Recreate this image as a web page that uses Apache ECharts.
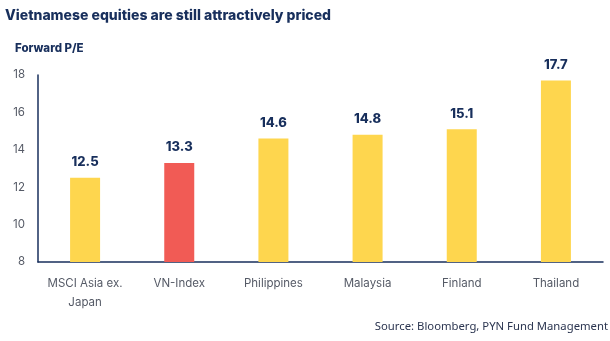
<!DOCTYPE html>
<html><head><meta charset="utf-8">
<script src="https://cdn.jsdelivr.net/npm/echarts@6/dist/echarts.min.js"></script>
<style>html,body{margin:0;padding:0;background:#fff}#c{width:610px;height:341px}</style>
</head><body><div id="c"></div>
<script>
const categories = ['MSCI Asia ex.\nJapan', 'VN-Index', 'Philippines', 'Malaysia', 'Finland', 'Thailand'];
const values = [12.5, 13.3, 14.6, 14.8, 15.1, 17.7];
const highlight = 'VN-Index';
const yTicks = [8, 10, 12, 14, 16, 18];

const navy = '#182f5c';
const chart = echarts.init(document.getElementById('c'));
chart.setOption({
  animation: false,
  textStyle: { fontFamily: 'Inter' },
  title: [
    { text: 'Vietnamese equities are still attractively priced', left: 5, top: 9, padding: 0,
      textStyle: { fontSize: 14, fontWeight: 800, color: navy, fontFamily: 'Inter' } },
    { text: 'Forward P/E', left: 15, top: 43, padding: 0,
      textStyle: { fontSize: 11.5, fontWeight: 800, color: navy, fontFamily: 'Inter' } },
    { text: 'Source: Bloomberg, PYN Fund Management', right: 2, top: 321, padding: 0,
      textStyle: { fontSize: 11.3, fontWeight: 'normal', color: '#2b3550', fontFamily: 'Noto Sans' } }
  ],
  grid: { left: 38, right: 7, top: 75, bottom: 79 },
  xAxis: {
    type: 'category', data: categories,
    axisLine: { lineStyle: { color: navy, width: 1.5 } },
    axisTick: { show: false },
    axisLabel: { color: '#555a66', fontSize: 11.5, lineHeight: 19, margin: 12, interval: 0 }
  },
  yAxis: {
    type: 'value', min: yTicks[0], max: yTicks[yTicks.length - 1], interval: 2,
    axisLine: { show: true, lineStyle: { color: navy, width: 1.5 } },
    axisTick: { show: false },
    splitLine: { show: false },
    axisLabel: { color: '#555a66', fontSize: 11.5, margin: 13 }
  },
  series: [{
    type: 'bar',
    barWidth: 30,
    data: values.map((v, i) => ({
      value: v,
      itemStyle: { color: categories[i] === highlight ? '#f15b55' : '#fed64e' }
    })),
    label: { show: true, position: 'top', distance: 9, color: navy, fontWeight: 800, fontSize: 13, fontFamily: 'Inter',
      formatter: p => p.value.toFixed(1) }
  }]
});
</script></body></html>
